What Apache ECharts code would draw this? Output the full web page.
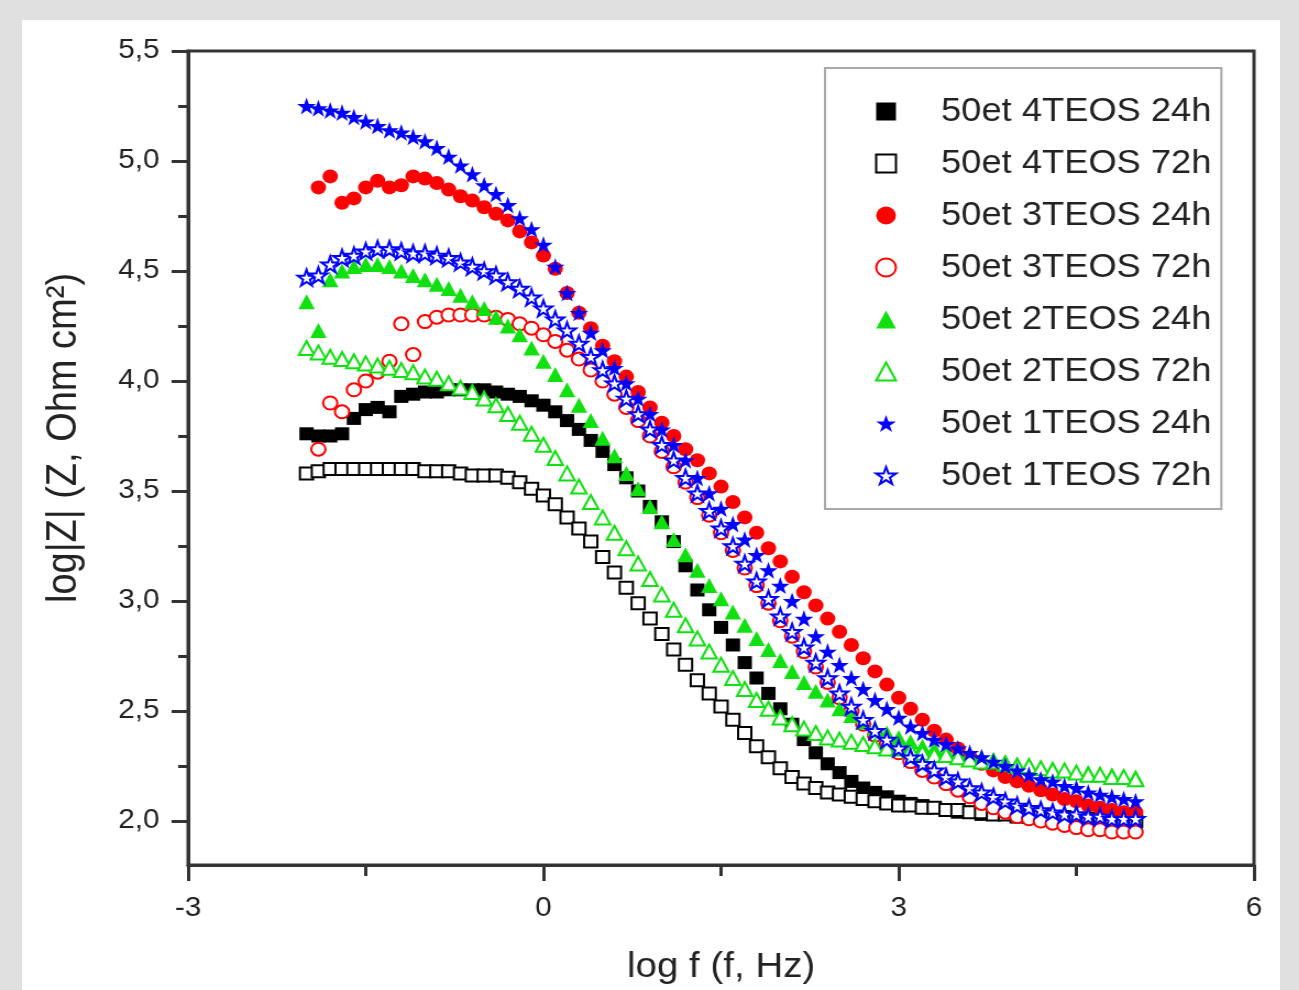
<!DOCTYPE html>
<html><head><meta charset="utf-8">
<script src="https://cdn.jsdelivr.net/npm/echarts@6.0.0/dist/echarts.min.js"></script>
<style>
html,body{margin:0;padding:0;width:1299px;height:990px;overflow:hidden;background:#e0e0e0;}
#panel{position:absolute;left:22px;top:20px;width:1258px;height:980px;background:#fff;}
#chart{position:absolute;left:0;top:0;width:1181px;height:990px;transform:scaleX(1.1);transform-origin:0 0;}
</style></head><body>
<div id="panel"></div><div id="chart"></div>
<script>
// x: log f (f, Hz)
const logF = [-2.0,-1.9,-1.8,-1.7,-1.6,-1.5,-1.4,-1.3,-1.2,-1.1,-1.0,-0.9,-0.8,-0.7,-0.6,-0.5,-0.4,-0.3,-0.2,-0.1,
  0.0,0.1,0.2,0.3,0.4,0.5,0.6,0.7,0.8,0.9,1.0,1.1,1.2,1.3,1.4,1.5,1.6,1.7,1.8,1.9,
  2.0,2.1,2.2,2.3,2.4,2.5,2.6,2.7,2.8,2.9,3.0,3.1,3.2,3.3,3.4,3.5,3.6,3.7,3.8,3.9,
  4.0,4.1,4.2,4.3,4.4,4.5,4.6,4.7,4.8,4.9,5.0];

// y: log|Z|
const et4TEOS24h = [3.76,3.75,3.75,3.76,3.83,3.87,3.88,3.86,3.93,3.94,
  3.95,3.95,3.96,3.96,3.96,3.96,3.95,3.94,3.93,3.91,
  3.89,3.86,3.82,3.78,3.73,3.68,3.62,3.56,3.50,3.43,
  3.36,3.27,3.16,3.05,2.96,2.88,2.80,2.72,2.65,2.58,
  2.51,2.44,2.37,2.31,2.26,2.22,2.18,2.15,2.13,2.11,
  2.09,2.08,2.07,2.06,2.05,2.04,2.04,2.03,2.03,2.03,
  2.02,2.02,2.02,2.02,2.02,2.01,2.01,2.01,2.01,2.01,2.01];
const et4TEOS72h = [3.58,3.59,3.60,3.60,3.60,3.60,3.60,3.60,3.60,3.60,
  3.59,3.59,3.59,3.58,3.57,3.57,3.57,3.56,3.54,3.51,
  3.48,3.44,3.38,3.33,3.27,3.20,3.13,3.06,2.99,2.92,
  2.85,2.78,2.71,2.64,2.58,2.52,2.46,2.40,2.34,2.29,
  2.24,2.20,2.17,2.15,2.13,2.12,2.11,2.10,2.09,2.08,
  2.07,2.07,2.06,2.06,2.05,2.05,2.04,2.04,2.03,2.03,
  2.02,2.02,2.02,2.01,2.01,2.01,2.01,2.01,2.00,2.00,2.00];
const et3TEOS24h = [null,4.88,4.93,4.81,4.83,4.88,4.91,4.88,4.89,4.93,
  4.92,4.90,4.87,4.84,4.82,4.79,4.76,4.73,4.68,4.63,
  4.57,4.51,4.40,4.31,4.24,4.16,4.09,4.02,3.95,3.88,
  3.81,3.75,3.69,3.64,3.58,3.52,3.45,3.38,3.31,3.24,
  3.18,3.11,3.04,2.98,2.92,2.86,2.80,2.74,2.68,2.62,
  2.56,2.51,2.46,2.41,2.37,2.33,2.29,2.26,2.23,2.20,
  2.18,2.16,2.14,2.12,2.10,2.09,2.07,2.06,2.05,2.04,2.04];
const et3TEOS72h = [null,3.69,3.90,3.86,3.96,4.00,4.04,4.09,4.26,4.12,
  4.27,4.29,4.30,4.30,4.30,4.30,4.29,4.28,4.26,4.24,
  4.21,4.18,4.14,4.10,4.05,4.00,3.94,3.88,3.82,3.75,
  3.68,3.61,3.54,3.47,3.39,3.31,3.23,3.15,3.07,2.99,
  2.91,2.84,2.77,2.70,2.63,2.56,2.50,2.44,2.39,2.35,
  2.31,2.27,2.23,2.20,2.17,2.14,2.11,2.08,2.06,2.04,
  2.02,2.01,2.00,1.99,1.98,1.97,1.96,1.96,1.95,1.95,1.95];
const et2TEOS24h = [4.36,4.23,4.46,4.50,4.52,4.53,4.53,4.52,4.50,4.48,
  4.46,4.44,4.42,4.39,4.36,4.33,4.29,4.25,4.21,4.15,
  4.09,4.03,3.96,3.89,3.82,3.74,3.66,3.58,3.51,3.43,
  3.36,3.28,3.21,3.14,3.07,3.01,2.95,2.89,2.83,2.78,
  2.73,2.68,2.63,2.59,2.55,2.51,2.48,2.45,2.42,2.40,
  2.38,2.36,2.34,2.33,2.32,2.31,2.30,2.29,2.28,2.27,
  2.26,2.25,2.24,2.24,2.23,2.22,2.22,2.21,2.21,2.20,2.20];
const et2TEOS72h = [4.15,4.13,4.11,4.10,4.09,4.08,4.07,4.06,4.05,4.04,
  4.02,4.01,3.99,3.97,3.95,3.92,3.89,3.85,3.81,3.76,
  3.71,3.65,3.58,3.52,3.45,3.38,3.31,3.24,3.17,3.10,
  3.03,2.96,2.89,2.83,2.77,2.71,2.65,2.60,2.55,2.51,
  2.47,2.44,2.42,2.40,2.38,2.37,2.36,2.35,2.34,2.33,
  2.33,2.32,2.31,2.30,2.30,2.29,2.28,2.27,2.27,2.26,
  2.25,2.25,2.24,2.23,2.23,2.22,2.21,2.21,2.20,2.20,2.19];
const et1TEOS24h = [5.25,5.24,5.23,5.22,5.20,5.18,5.16,5.14,5.13,5.11,
  5.09,5.06,5.02,4.98,4.94,4.89,4.85,4.80,4.74,4.69,
  4.62,4.52,4.40,4.31,4.22,4.14,4.06,3.99,3.92,3.85,
  3.78,3.71,3.64,3.56,3.49,3.42,3.35,3.28,3.21,3.14,
  3.07,3.00,2.92,2.84,2.77,2.71,2.65,2.60,2.55,2.51,
  2.47,2.43,2.40,2.37,2.35,2.33,2.31,2.29,2.27,2.25,
  2.23,2.21,2.19,2.18,2.16,2.15,2.13,2.12,2.11,2.10,2.09];
const et1TEOS72h = [4.47,4.48,4.53,4.56,4.57,4.59,4.60,4.60,4.59,4.58,
  4.58,4.57,4.56,4.54,4.52,4.50,4.48,4.45,4.42,4.38,
  4.33,4.28,4.23,4.17,4.11,4.05,3.99,3.92,3.85,3.78,
  3.71,3.64,3.56,3.49,3.41,3.33,3.25,3.17,3.09,3.01,
  2.93,2.86,2.79,2.72,2.65,2.58,2.52,2.46,2.41,2.37,
  2.33,2.29,2.26,2.23,2.20,2.18,2.15,2.13,2.11,2.09,
  2.07,2.06,2.05,2.04,2.03,2.03,2.02,2.02,2.01,2.01,2.01];

const seriesNames = ['50et 4TEOS 24h','50et 4TEOS 72h','50et 3TEOS 24h','50et 3TEOS 72h',
  '50et 2TEOS 24h','50et 2TEOS 72h','50et 1TEOS 24h','50et 1TEOS 72h'];
const yMajorTicks = [2.0,2.5,3.0,3.5,4.0,4.5,5.0,5.5];
const yMinorTicks = [2.25,2.75,3.25,3.75,4.25,4.75,5.25];

const STAR = 'path://M50,0 L61.8,35.1 L98.1,35.1 L68.7,56.8 L79.4,90.5 L50,69.8 L20.6,90.5 L31.3,56.8 L1.9,35.1 L38.2,35.1 Z';
const BLACK = '#000000', RED = '#ff0000', GREEN = '#10e010', BLUE = '#0000ff';

function mk(name, arr, symbol, size, color, open) {
  const data = [];
  logF.forEach((x, i) => { if (arr[i] != null) data.push([x, arr[i]]); });
  return {
    name, type: 'scatter', symbol, symbolSize: size, data,
    itemStyle: open ? {color: '#ffffff', borderColor: color, borderWidth: 2, opacity: 1}
                    : {color: color, borderWidth: 0, opacity: 1},
    emphasis: {disabled: true}, silent: true, animation: false
  };
}

const axisCol = '#333333';
const chart = echarts.init(document.getElementById('chart'));
chart.setOption({
  backgroundColor: 'transparent',
  animation: false,
  textStyle: {fontFamily: 'Liberation Sans, Arial, sans-serif'},
  grid: {left: 171, right: 41, top: 51, bottom: 124, show: true, borderColor: axisCol, borderWidth: 3, backgroundColor: 'transparent'},
  legend: {
    left: 750, top: 68, orient: 'vertical', selectedMode: false,
    padding: [27, 9, 17, 45.5], itemGap: 19, itemWidth: 18, itemHeight: 18,
    backgroundColor: '#ffffff', borderColor: '#a8a8a8', borderWidth: 2, borderRadius: 0,
    textStyle: {fontSize: 33, color: '#222222', lineHeight: 30, padding: [0, 0, 0, 36], fontFamily: 'Liberation Sans, Arial, sans-serif'},
    data: seriesNames
  },
  xAxis: {
    type: 'value', min: -3, max: 6, interval: 3,
    name: 'log f (f, Hz)', nameLocation: 'middle', nameGap: 85,
    nameTextStyle: {fontSize: 35, color: '#222222'},
    axisLine: {show: true, onZero: false, lineStyle: {color: axisCol, width: 3}},
    axisTick: {show: true, inside: false, length: 16, lineStyle: {color: axisCol, width: 3}},
    minorTick: {show: true, splitNumber: 2, length: 11, lineStyle: {color: axisCol, width: 3}},
    axisLabel: {fontSize: 27, color: '#222222', margin: 30, formatter: v => String(v)},
    splitLine: {show: false}, minorSplitLine: {show: false}
  },
  yAxis: [{
    type: 'value', min: 1.8, max: 5.5,
    name: 'log|Z| (Z, Ohm cm²)', nameLocation: 'middle', nameGap: 93,
    nameTextStyle: {fontSize: 38, color: '#222222', padding: [0, 0, 0, 40]},
    axisLine: {show: true, onZero: false, lineStyle: {color: axisCol, width: 3}},
    axisTick: {show: true, inside: false, length: 15, customValues: yMajorTicks, lineStyle: {color: axisCol, width: 3}},
    axisLabel: {fontSize: 27, color: '#222222', margin: 26, customValues: yMajorTicks,
      formatter: v => v.toFixed(1).replace('.', ',')},
    splitLine: {show: false}
  }, {
    type: 'value', min: 1.8, max: 5.5, position: 'left',
    axisLine: {show: false, onZero: false},
    axisTick: {show: true, inside: false, length: 9, customValues: yMinorTicks, lineStyle: {color: axisCol, width: 3}},
    axisLabel: {show: false}, splitLine: {show: false}
  }],
  series: [
    mk(seriesNames[0], et4TEOS24h, 'rect', 13, BLACK, false),
    mk(seriesNames[1], et4TEOS72h, 'rect', 12, BLACK, true),
    mk(seriesNames[2], et3TEOS24h, 'circle', 14, RED, false),
    mk(seriesNames[3], et3TEOS72h, 'circle', 13, RED, true),
    mk(seriesNames[4], et2TEOS24h, 'triangle', 15, GREEN, false),
    mk(seriesNames[5], et2TEOS72h, 'triangle', 14, GREEN, true),
    mk(seriesNames[6], et1TEOS24h, STAR, 17, BLUE, false),
    mk(seriesNames[7], et1TEOS72h, STAR, 16, BLUE, true)
  ]
});
</script>
</body></html>
